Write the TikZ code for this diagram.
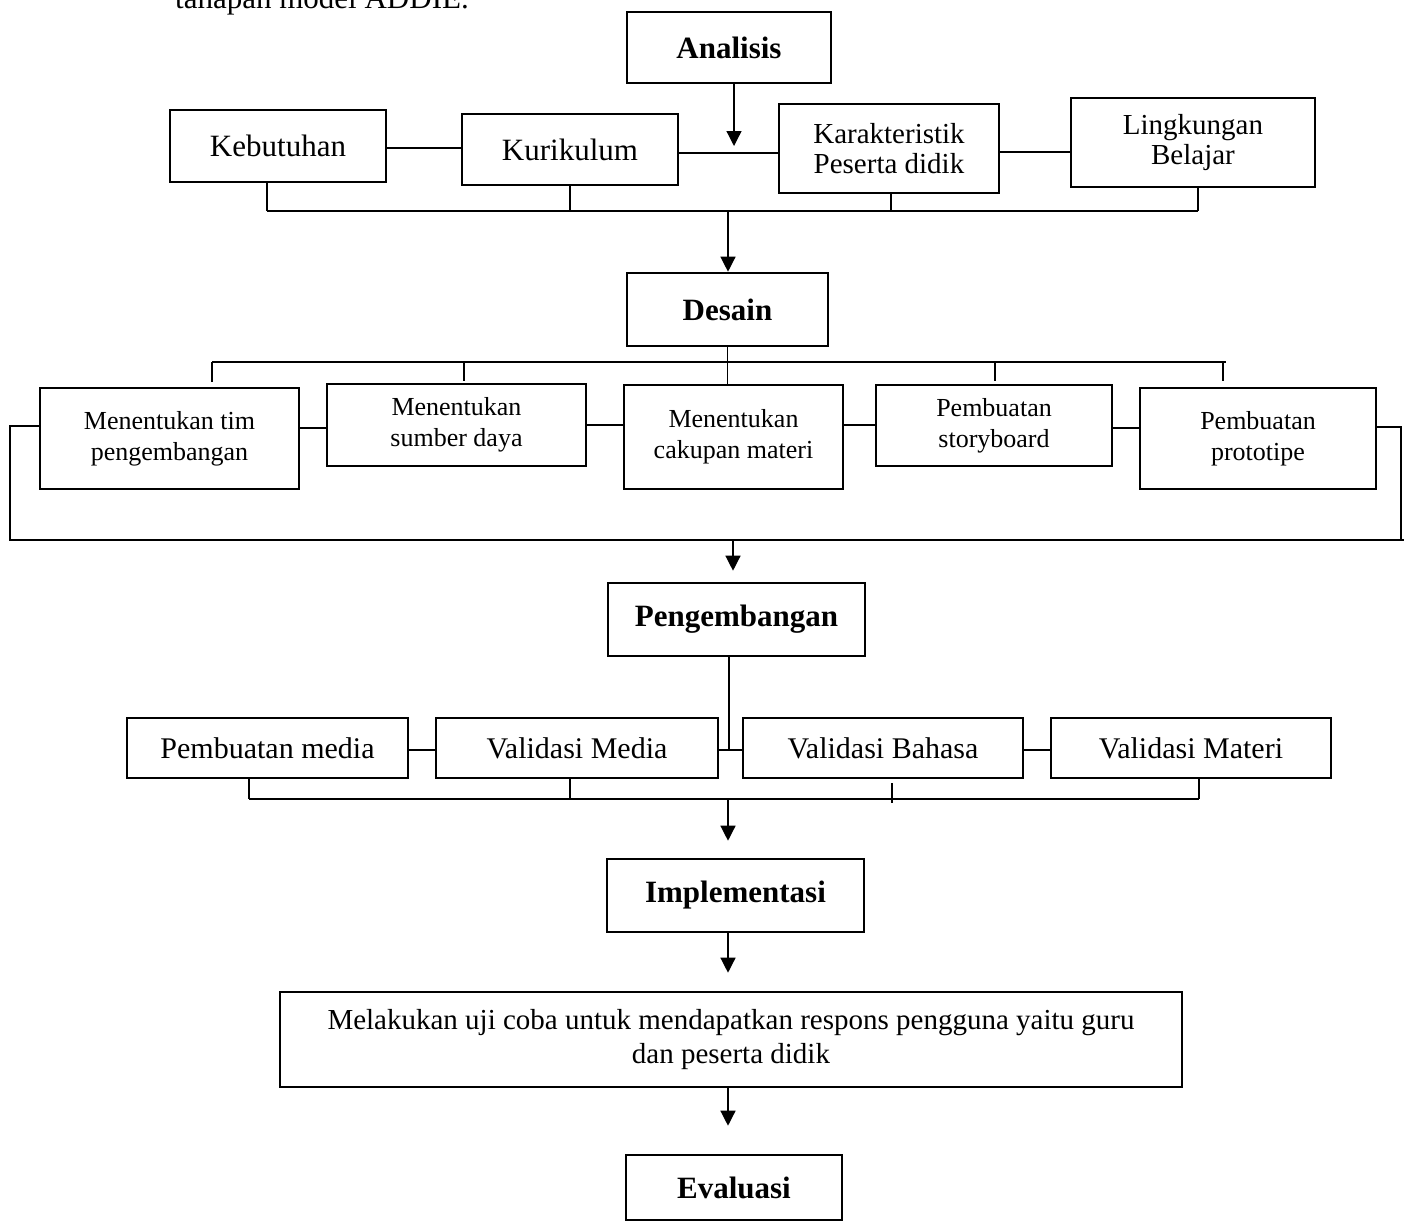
\documentclass[tikz,border=0pt]{standalone}
\usepackage{fontspec}
\setmainfont{Liberation Serif}
\usetikzlibrary{arrows.meta,calc}
\begin{document}
\begin{tikzpicture}[x=1pt,y=-1pt,
  box/.style={draw, line width=2.6pt, inner sep=0pt, align=center},
  stage/.style={box, font=\bfseries\fontsize{31}{34}\selectfont},
  big/.style={box, font=\fontsize{31}{34}\selectfont},
  mid/.style={box, font=\fontsize{29}{30}\selectfont},
  small/.style={box, font=\fontsize{26}{31}\selectfont},
  rowbox/.style={box, font=\fontsize{30}{34}\selectfont},
  ujibox/.style={box, font=\fontsize{29}{34}\selectfont},
  conn/.style={line width=1.3pt},
  arr/.style={conn, -{Triangle[width=15pt,length=15pt]}}]
\useasboundingbox (0,0) rectangle (1410,1223);

% cut caption line at the top
\node[anchor=base west, inner sep=0pt, font=\fontsize{31}{34}\selectfont] (cap) at (175,9) {tahapan model ADDIE.};

% ---------- Analisis ----------
\node[stage, minimum width=204pt, minimum height=71pt] (ana) at (729,47.5) {Analisis};
\node[big, minimum width=216pt, minimum height=72pt] (keb) at (278,146) {Kebutuhan};
\node[big, minimum width=216pt, minimum height=71pt] (kur) at (570,149.5) {Kurikulum};
\node[mid, minimum width=220pt, minimum height=89pt] (kar) at (889,148.5) {Karakteristik\\Peserta didik};
\node[mid, minimum width=244pt, minimum height=89pt] (lin) at (1193,142.5) {Lingkungan\\Belajar};

\coordinate (h1) at (0,148);
\coordinate (h2) at (0,153);
\coordinate (h3) at (0,152);
\draw[conn] (keb.east |- h1) -- (kur.west |- h1);
\draw[conn] (kur.east |- h2) -- (kar.west |- h2);
\draw[conn] (kar.east |- h3) -- (lin.west |- h3);

\coordinate (a0) at (734,146);
\draw[arr] (ana.south -| a0) -- (a0);

\coordinate (t1) at (267,211);
\coordinate (t2) at (570,211);
\coordinate (t3) at (891,211);
\coordinate (t4) at (1198,211);
\draw[conn] (t1) -- (t4);
\draw[conn] (keb.south -| t1) -- (t1);
\draw[conn] (kur.south -| t2) -- (t2);
\draw[conn] (kar.south -| t3) -- (t3);
\draw[conn] (lin.south -| t4) -- (t4);

% ---------- Desain ----------
\node[stage, minimum width=201pt, minimum height=73pt] (des) at (727.5,309.5) {Desain};
\coordinate (a1) at (728,211);
\draw[arr] (a1) -- (des.north -| a1);

\node[small, minimum width=259pt, minimum height=101pt] (tim) at (169.5,438.5) {Menentukan tim\\pengembangan};
\node[small, minimum width=259pt, minimum height=82pt] (sum) at (456.5,425) {Menentukan\\sumber daya};
\node[small, minimum width=219pt, minimum height=104pt] (cak) at (733.5,437) {Menentukan\\cakupan materi};
\node[small, minimum width=236pt, minimum height=81pt] (sto) at (994,425.5) {Pembuatan\\storyboard};
\node[small, minimum width=236pt, minimum height=101pt] (pro) at (1258,438.5) {Pembuatan\\prototipe};

\draw[conn] (des.south) -- (des.south |- cak.north);

\coordinate (u1) at (212,362);
\coordinate (u2) at (464,362);
\coordinate (u4) at (995,362);
\coordinate (u5) at (1223,362);
\coordinate (u6) at (1226,362);
\draw[conn] (u1) -- (u6);
\draw[conn, shorten >=5pt] (u1) -- (tim.north -| u1);
\draw[conn, shorten >=2pt] (u2) -- (sum.north -| u2);
\draw[conn, shorten >=3pt] (u4) -- (sto.north -| u4);
\draw[conn, shorten >=6pt] (u5) -- (pro.north -| u5);

\coordinate (g1) at (0,428);
\coordinate (g2) at (0,425);
\draw[conn] (tim.east |- g1) -- (sum.west |- g1);
\draw[conn] (sum.east |- g2) -- (cak.west |- g2);
\draw[conn] (cak.east |- g2) -- (sto.west |- g2);
\draw[conn] (sto.east |- g1) -- (pro.west |- g1);

\coordinate (L1) at (10,426);
\coordinate (L2) at (10,540);
\coordinate (R1) at (1401,427);
\coordinate (R2) at (1404,540);
\draw[conn] (tim.west |- L1) -- (L1) -- (L2) -- (R2);
\draw[conn] (pro.east |- R1) -- (R1) -- (R1 |- R2);

% ---------- Pengembangan ----------
\node[stage, minimum width=257pt, minimum height=73pt] (pen) at (736.5,619.5) {Pengembangan};
\coordinate (a2) at (733,540);
\draw[arr, shorten >=11pt] (a2) -- (pen.north -| a2);

\node[rowbox, minimum width=281pt, minimum height=60pt] (pm) at (267.5,748) {Pembuatan media};
\node[rowbox, minimum width=282pt, minimum height=60pt] (vm) at (577,748) {Validasi Media};
\node[rowbox, minimum width=280pt, minimum height=60pt] (vb) at (883,748) {Validasi Bahasa};
\node[rowbox, minimum width=280pt, minimum height=60pt] (vmat) at (1191,748) {Validasi Materi};

\coordinate (pv) at (729,750);
\draw[conn] (pen.south -| pv) -- (pv);
\draw[conn] (pm.east |- pv) -- (vm.west |- pv);
\draw[conn] (vm.east |- pv) -- (vb.west |- pv);
\draw[conn] (vb.east |- pv) -- (vmat.west |- pv);

\coordinate (w1) at (249,799);
\coordinate (w2) at (570,799);
\coordinate (w3) at (892,799);
\coordinate (w3b) at (892,803);
\coordinate (w4) at (1199,799);
\draw[conn] (w1) -- (w4);
\draw[conn] (pm.south -| w1) -- (w1);
\draw[conn] (vm.south -| w2) -- (w2);
\draw[conn, shorten <=4pt] (vb.south -| w3) -- (w3b);
\draw[conn] (vmat.south -| w4) -- (w4);

% ---------- Implementasi ----------
\node[stage, minimum width=257pt, minimum height=73pt] (imp) at (735.5,895.5) {Implementasi};
\coordinate (a3) at (728,799);
\draw[arr, shorten >=17pt] (a3) -- (imp.north -| a3);

\node[ujibox, minimum width=902pt, minimum height=95pt] (uji) at (731,1039.5) {Melakukan uji coba untuk mendapatkan respons pengguna yaitu guru\\dan peserta didik};
\draw[arr, shorten >=18pt] (imp.south -| a3) -- (uji.north -| a3);

% ---------- Evaluasi ----------
\node[stage, minimum width=216pt, minimum height=65pt] (eva) at (734,1187.5) {Evaluasi};
\draw[arr, shorten >=28pt] (uji.south -| a3) -- (eva.north -| a3);
\end{tikzpicture}
\end{document}
